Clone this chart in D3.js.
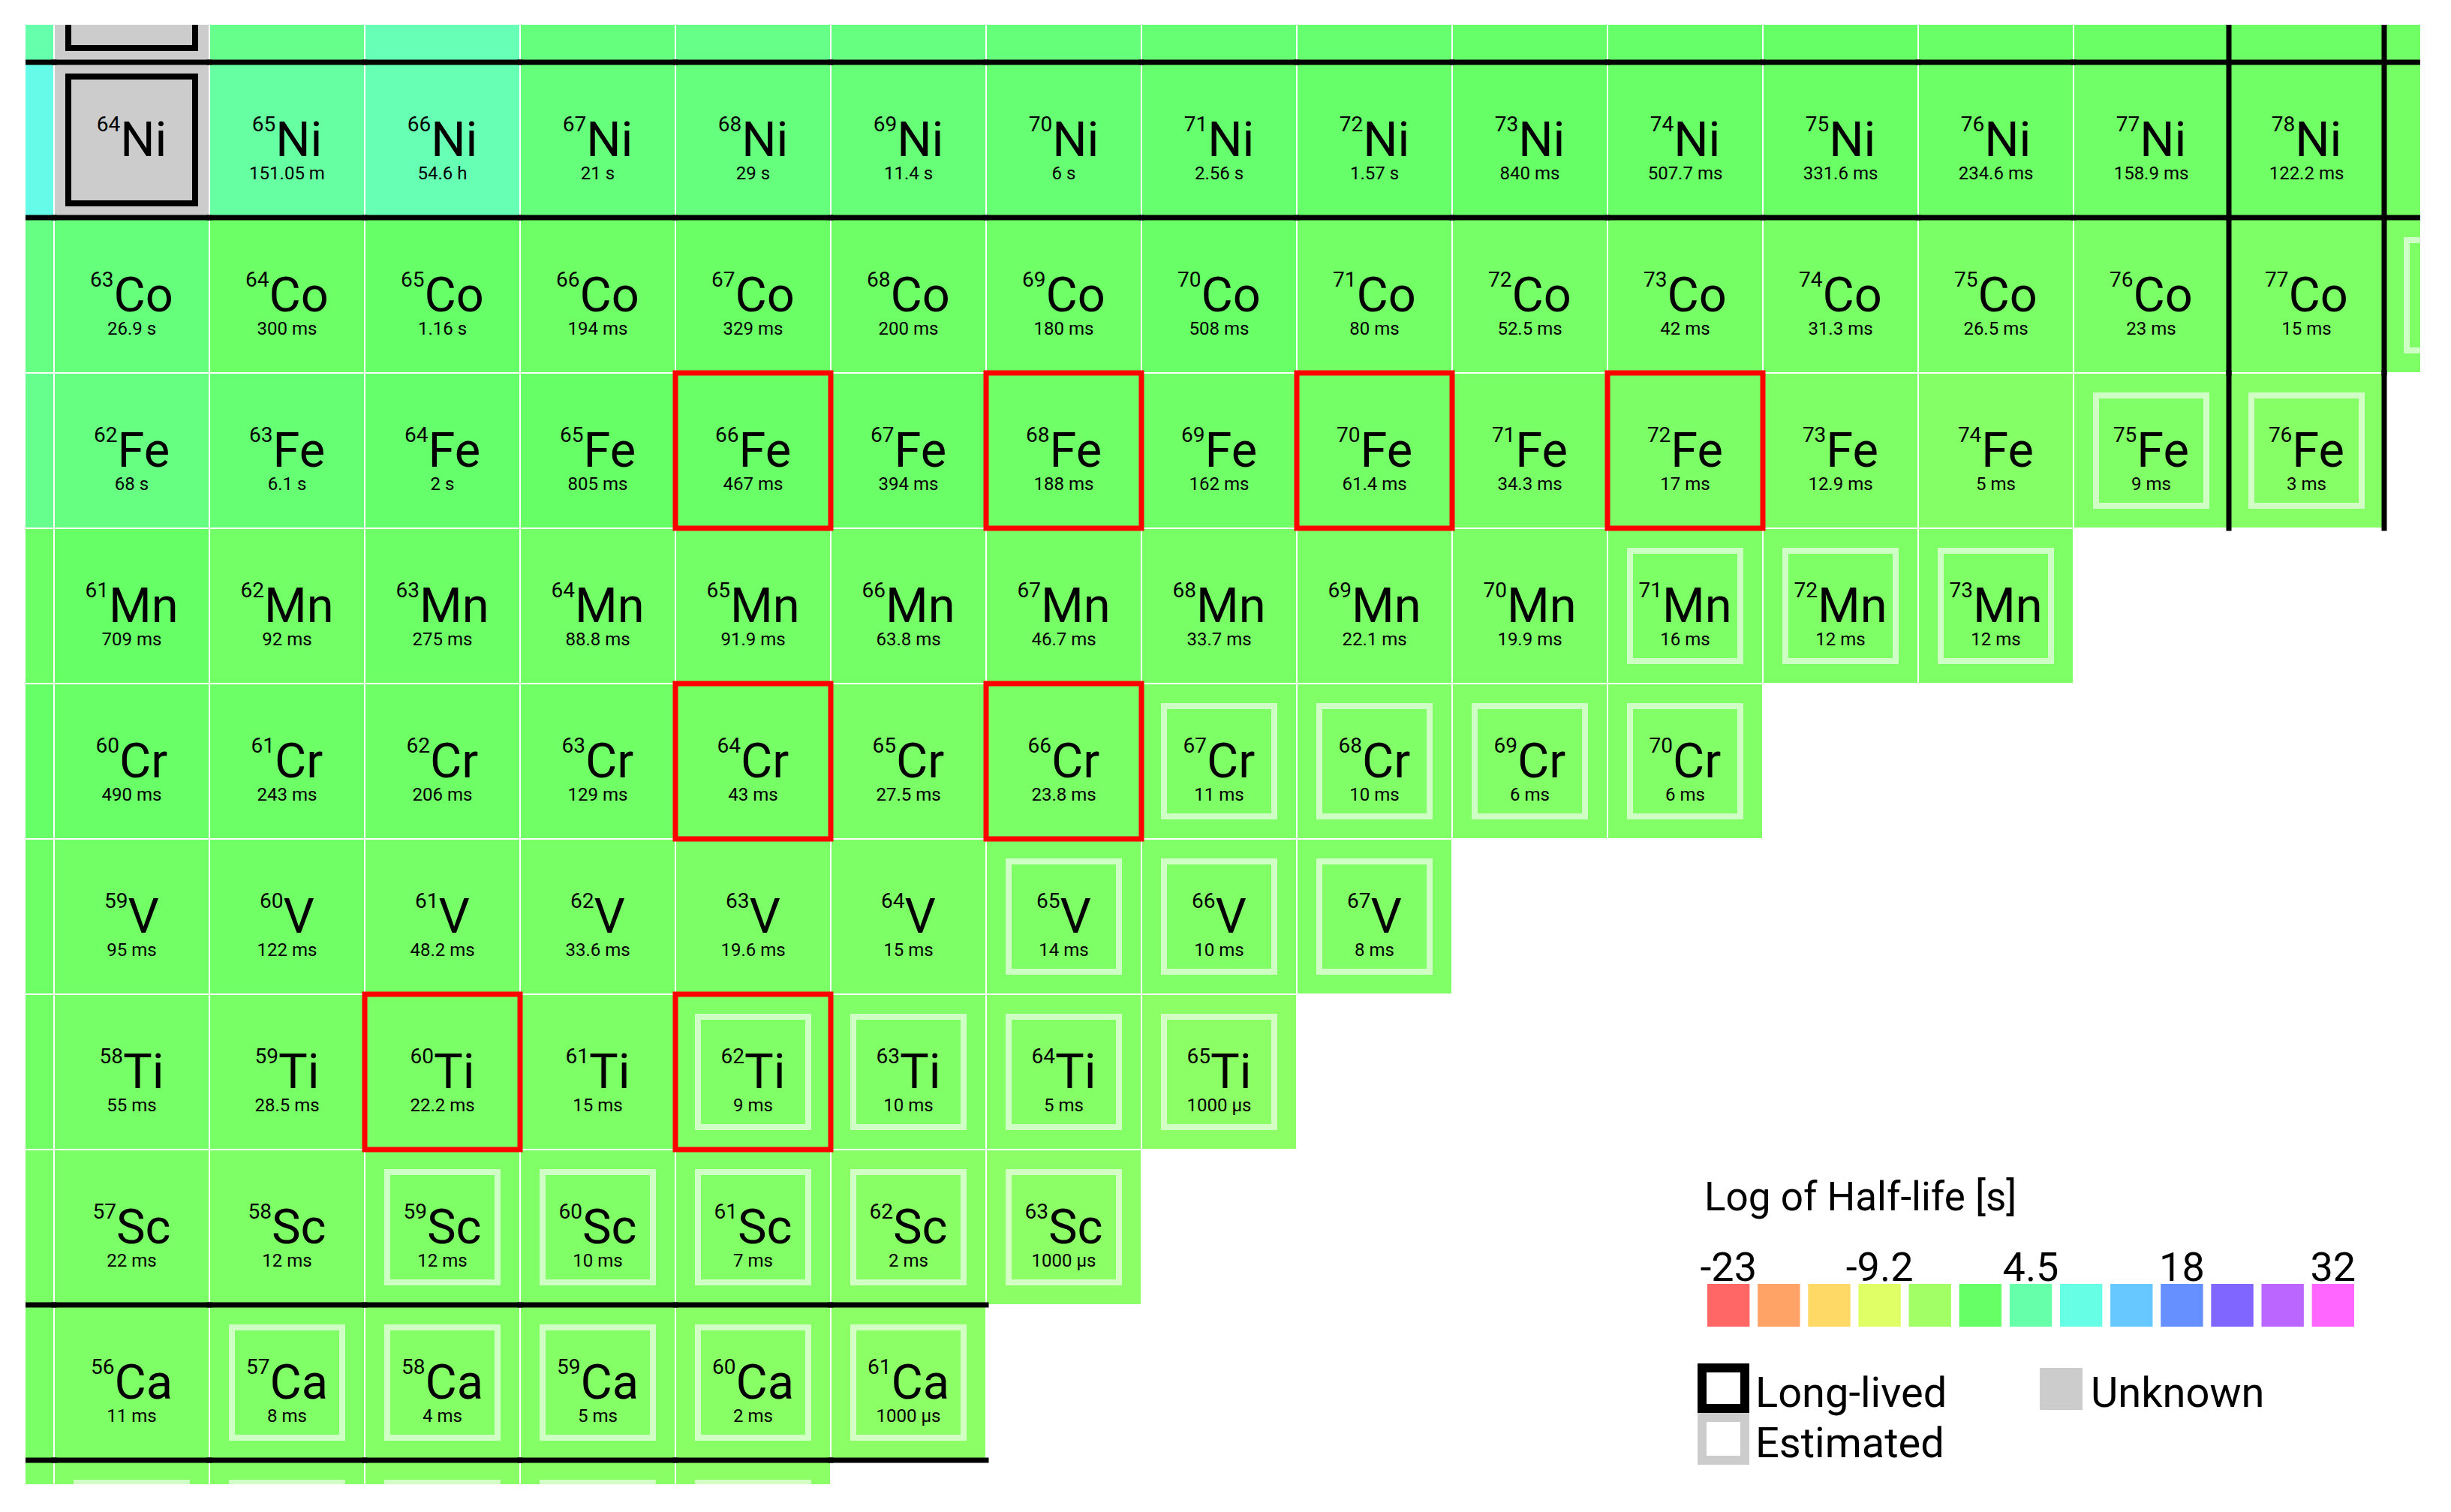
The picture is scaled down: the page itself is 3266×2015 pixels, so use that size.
<!DOCTYPE html>
<html lang="en">
<head>
<meta charset="UTF-8">
<title>Nuclide chart</title>
<script src="https://cdn.jsdelivr.net/npm/d3@7/dist/d3.min.js"></script>
<style>
body{margin:0;background:#fff;}
text{font-family:Roboto,"Noto Sans",sans-serif;fill:#000;}
</style>
</head>
<body>
<script>
// rows of the chart, bottom to top; first mass is the column N=35
var symbols   = ["K","Ca","Sc","Ti","V","Cr","Mn","Fe","Co","Ni","Cu"];
var protons   = [19,20,21,22,23,24,25,26,27,28,29];
var firstMass = [54,55,56,57,58,59,60,61,62,63,64];

// half-lives as printed (null = stable / unknown)
var halfK  = ["10 ms","5 ms","4 ms","2 ms","2 ms","1000 μs"];
var halfCa = ["22 ms","11 ms","8 ms","4 ms","5 ms","2 ms","1000 μs"];
var halfSc = ["26 ms","22 ms","12 ms","12 ms","10 ms","7 ms","2 ms","1000 μs"];
var halfTi = ["95 ms","55 ms","28.5 ms","22.2 ms","15 ms","9 ms","10 ms","5 ms","1000 μs"];
var halfV  = ["191 ms","95 ms","122 ms","48.2 ms","33.6 ms","19.6 ms","15 ms","14 ms","10 ms","8 ms"];
var halfCr = ["1.05 s","490 ms","243 ms","206 ms","129 ms","43 ms","27.5 ms","23.8 ms","11 ms","10 ms","6 ms","6 ms"];
var halfMn = ["280 ms","709 ms","92 ms","275 ms","88.8 ms","91.9 ms","63.8 ms","46.7 ms","33.7 ms","22.1 ms","19.9 ms","16 ms","12 ms","12 ms"];
var halfFe = ["5.98 m","68 s","6.1 s","2 s","805 ms","467 ms","394 ms","188 ms","162 ms","61.4 ms","34.3 ms","17 ms","12.9 ms","5 ms","9 ms","3 ms"];
var halfCo = ["1.54 m","26.9 s","300 ms","1.16 s","194 ms","329 ms","200 ms","180 ms","508 ms","80 ms","52.5 ms","42 ms","31.3 ms","26.5 ms","23 ms","15 ms","11 ms"];
var halfNi = ["101.2 y",null,"151.05 m","54.6 h","21 s","29 s","11.4 s","6 s","2.56 s","1.57 s","840 ms","507.7 ms","331.6 ms","234.6 ms","158.9 ms","122.2 ms","43 ms"];
var halfCu = ["12.7 h",null,"5.12 m","61.83 h","31.1 s","2.85 m","44.5 s","19.4 s","6.63 s","4.2 s","1.63 s","1.22 s","637.7 ms","469.8 ms","330.7 ms","241.3 ms","113.3 ms"];
var halfLives = [halfK,halfCa,halfSc,halfTi,halfV,halfCr,halfMn,halfFe,halfCo,halfNi,halfCu];

// estimated half-lives (mass numbers)
var estK  = [55,56,57,58,59];
var estCa = [57,58,59,60,61];
var estSc = [59,60,61,62,63];
var estTi = [62,63,64,65];
var estV  = [65,66,67];
var estCr = [67,68,69,70];
var estMn = [71,72,73];
var estFe = [75,76];
var estCo = [78];
var estimated = [estK,estCa,estSc,estTi,estV,estCr,estMn,estFe,estCo,[],[]];

var longLived   = ["64Ni","65Cu"];
var highlighted = ["66Fe","68Fe","70Fe","72Fe","64Cr","66Cr","60Ti","62Ti"];
var magicZ = [20,28];
var magicN = [50];

// colour legend
var legendColors = ["#ff6666","#ffa366","#ffd966","#e0ff66","#a3ff66","#66ff66","#66ffaa",
                    "#66ffe6","#66c8ff","#6690ff","#8066ff","#bb66ff","#ff66ff"];
var legendTicks   = ["-23","-9.2","4.5","18","32"];
var legendTickIdx = [0,3,6,9,12];
var logMin = -23, logMax = 32;

var units = {"μs":1e-6,"ms":1e-3,"s":1,"m":60,"h":3600,"d":86400,"y":31557600};
function toSeconds(t){
	if(t==null) return null;
	var p = t.split(" ");
	return +p[0]*units[p[1]];
}

var width = 3266, height = 2015;
var plot = {left:34, top:33, right:3225, bottom:1978};

// one cell = 207px; N=36 starts at x=72, Z=28 starts at y=83
var xScale = d3.scaleLinear().domain([35.3164,50.7319]).range([plot.left,plot.right]);
var yScale = d3.scaleLinear().domain([28.7415,19.3454]).range([plot.top,plot.bottom]);
var color = d3.scaleLinear()
	.domain(d3.range(legendColors.length).map(function(i){return logMin+i*(logMax-logMin)/(legendColors.length-1);}))
	.range(legendColors).clamp(true);

var cells = [];
symbols.forEach(function(sym,r){
	halfLives[r].forEach(function(hl,i){
		var A = firstMass[r]+i, Z = protons[r];
		cells.push({sym:sym,Z:Z,A:A,N:A-Z,hl:hl,sec:toSeconds(hl),
			est:estimated[r].indexOf(A)>=0,
			ll:longLived.indexOf(A+sym)>=0,
			hi:highlighted.indexOf(A+sym)>=0});
	});
});

var svg = d3.select("body").append("svg").attr("width",width).attr("height",height);
svg.append("rect").attr("width",width).attr("height",height).attr("fill","#fff");
svg.append("clipPath").attr("id","clip").append("rect")
	.attr("x",plot.left).attr("y",plot.top)
	.attr("width",plot.right-plot.left).attr("height",plot.bottom-plot.top);

var g = svg.append("g").attr("clip-path","url(#clip)");
function cx(d){return xScale(d.N-0.5);}
function cy(d){return yScale(d.Z+0.5);}
var cw = xScale(1)-xScale(0), ch = yScale(0)-yScale(1);

g.selectAll("rect.cell").data(cells).enter().append("rect").attr("class","cell")
	.attr("x",cx).attr("y",cy).attr("width",cw).attr("height",ch)
	.attr("fill",function(d){return d.sec==null?"#cccccc":color(Math.log10(d.sec));})
	.attr("stroke","#fff").attr("stroke-width",2);

g.selectAll("rect.est").data(cells.filter(function(d){return d.est;})).enter().append("rect")
	.attr("x",function(d){return cx(d)+30;}).attr("y",function(d){return cy(d)+30;})
	.attr("width",cw-60).attr("height",ch-60)
	.attr("fill","none").attr("stroke","#fff").attr("stroke-opacity",0.62).attr("stroke-width",8);

g.selectAll("rect.ll").data(cells.filter(function(d){return d.ll;})).enter().append("rect")
	.attr("x",function(d){return cx(d)+19;}).attr("y",function(d){return cy(d)+19;})
	.attr("width",cw-38).attr("height",ch-38)
	.attr("fill","none").attr("stroke","#000").attr("stroke-width",8);

// labels only for cells whose centre is inside the view
var shown = cells.filter(function(d){
	var mx = xScale(d.N), my = yScale(d.Z);
	return mx>plot.left && mx<plot.right && my>plot.top && my<plot.bottom;
});

var label = g.selectAll("text.sym").data(shown).enter().append("text")
	.attr("text-anchor","middle")
	.attr("x",function(d){return cx(d)+cw/2;})
	.attr("y",function(d){return cy(d)+125;});
label.append("tspan").attr("font-size",28).attr("dy",-33).text(function(d){return d.A;});
label.append("tspan").attr("font-size",65).attr("dy",33).text(function(d){return d.sym;});

g.selectAll("text.hl").data(shown.filter(function(d){return d.hl!=null;})).enter().append("text")
	.attr("text-anchor","middle").attr("font-size",24)
	.attr("x",function(d){return cx(d)+cw/2;})
	.attr("y",function(d){return cy(d)+156;})
	.text(function(d){return d.hl;});

// magic number borders
var segs = [];
cells.forEach(function(d){
	if(magicZ.indexOf(d.Z)>=0){
		segs.push([d.N-0.5,d.Z+0.5,d.N+0.5,d.Z+0.5]);
		segs.push([d.N-0.5,d.Z-0.5,d.N+0.5,d.Z-0.5]);
	}
	if(magicN.indexOf(d.N)>=0){
		segs.push([d.N-0.5,d.Z+0.5,d.N-0.5,d.Z-0.5]);
		segs.push([d.N+0.5,d.Z+0.5,d.N+0.5,d.Z-0.5]);
	}
});
g.selectAll("line.magic").data(segs).enter().append("line")
	.attr("x1",function(s){return xScale(s[0]);}).attr("y1",function(s){return yScale(s[1]);})
	.attr("x2",function(s){return xScale(s[2]);}).attr("y2",function(s){return yScale(s[3]);})
	.attr("stroke","#000").attr("stroke-width",7).attr("stroke-linecap","square");

g.selectAll("rect.hi").data(cells.filter(function(d){return d.hi;})).enter().append("rect")
	.attr("x",cx).attr("y",cy).attr("width",cw).attr("height",ch)
	.attr("fill","none").attr("stroke","#ff0000").attr("stroke-width",7);

// legend
var leg = svg.append("g");
leg.append("text").attr("x",2271).attr("y",1613).attr("font-size",53).text("Log of Half-life [s]");
var band = d3.scaleBand().domain(d3.range(legendColors.length)).range([2275,3137]).paddingInner(0.16);
leg.selectAll("rect.sw").data(legendColors).enter().append("rect")
	.attr("x",function(c,i){return band(i);}).attr("y",1711)
	.attr("width",band.bandwidth()).attr("height",57).attr("fill",function(c){return c;});
leg.selectAll("text.tick").data(legendTicks).enter().append("text")
	.attr("text-anchor","middle").attr("font-size",54)
	.attr("x",function(t,i){return band(legendTickIdx[i])+band.bandwidth()/2;})
	.attr("y",1707).text(function(t){return t;});

leg.append("rect").attr("x",2268).attr("y",1889).attr("width",57).attr("height",57)
	.attr("fill","#fff").attr("stroke","#cccccc").attr("stroke-width",12);
leg.append("rect").attr("x",2268).attr("y",1823).attr("width",57).attr("height",54)
	.attr("fill","#fff").attr("stroke","#000").attr("stroke-width",12);
leg.append("rect").attr("x",2718).attr("y",1823).attr("width",57).attr("height",56).attr("fill","#cccccc");
leg.append("text").attr("x",2339).attr("y",1875).attr("font-size",56).text("Long-lived");
leg.append("text").attr("x",2339).attr("y",1942).attr("font-size",56).text("Estimated");
leg.append("text").attr("x",2786).attr("y",1875).attr("font-size",56).text("Unknown");
</script>
</body>
</html>
